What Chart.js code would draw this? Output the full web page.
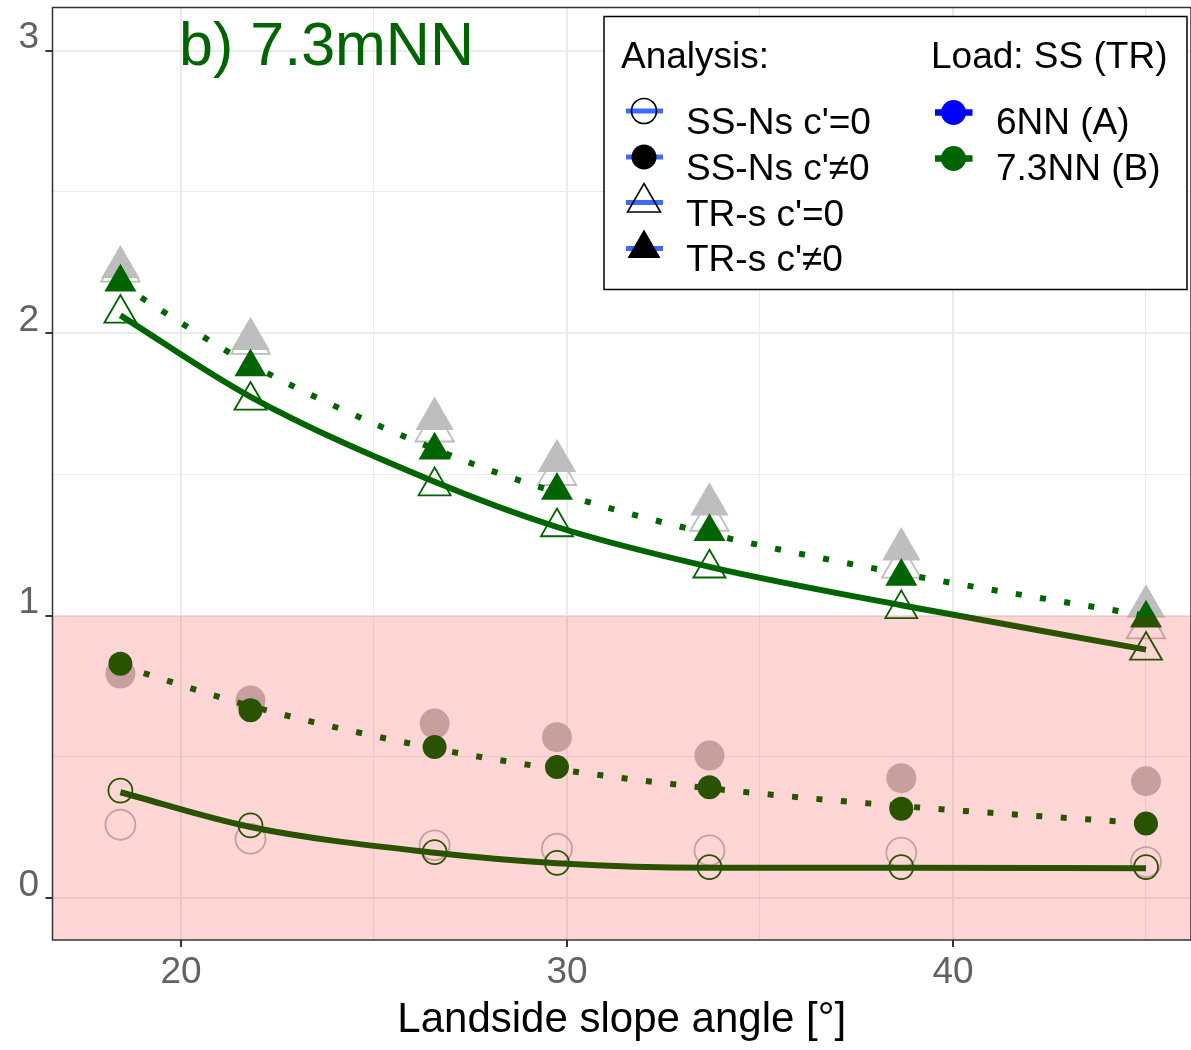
<!DOCTYPE html>
<html>
<head>
<meta charset="utf-8">
<title>Factor of safety vs landside slope angle</title>
<script src="https://cdn.jsdelivr.net/npm/chart.js@4.4.1/dist/chart.umd.min.js"></script>
<style>
  html, body { margin: 0; padding: 0; background: #fff; }
  #wrap { width: 1191px; height: 1050px; position: relative; }
</style>
</head>
<body>
<div id="wrap"><canvas id="fos-chart"></canvas></div>
<script>
(() => {
    'use strict';

    // slope angles of the analysed profiles (1:3 ... 1:1)
    const slopeAngle = [18.43, 21.80, 26.57, 29.74, 33.69, 38.66, 45.00];

    // load 7.3NN (B)
    const ssNsC0B = [0.381, 0.258, 0.163, 0.125, 0.110, 0.110, 0.110];
    const ssNsCB  = [0.830, 0.665, 0.535, 0.464, 0.393, 0.317, 0.264];
    const trsC0B  = [2.070, 1.762, 1.459, 1.314, 1.168, 1.024, 0.877];
    const trsCB   = [2.180, 1.880, 1.586, 1.443, 1.297, 1.139, 0.991];

    // load 6NN (A), shown in grey for comparison
    const ssNsC0A = [0.260, 0.210, 0.187, 0.175, 0.169, 0.161, 0.128];
    const ssNsCA  = [0.795, 0.700, 0.618, 0.570, 0.505, 0.425, 0.414];
    const trsC0A  = [2.222, 1.966, 1.656, 1.502, 1.340, 1.174, 0.959];
    const trsCA   = [2.234, 1.980, 1.697, 1.548, 1.394, 1.235, 1.033];

    // fitted trend curves for 7.3NN
    const fitTrsC0B  = [2.063, 1.775, 1.474, 1.314, 1.173, 1.037, 0.880];
    const fitTrsCB   = [2.172, 1.890, 1.590, 1.436, 1.290, 1.149, 1.000];
    const fitSsNsC0B = [0.375, 0.252, 0.161, 0.124, 0.108, 0.108, 0.106];
    const fitSsNsCB  = [0.823, 0.680, 0.530, 0.457, 0.389, 0.326, 0.265];

    const xTicks = [20, 30, 40];
    const yTicks = [0, 1, 2, 3];
    const unsafeLimit = 1;

    const analysisLabels = ["SS-Ns c'=0", "SS-Ns c'\u22600", "TR-s c'=0", "TR-s c'\u22600"];
    const loadLabels = ['6NN (A)', '7.3NN (B)'];
    const panelTitle = 'b) 7.3mNN';

    const GREEN = '#006400';
    const GREY = '#BEBEBE';
    const FONT = "'Liberation Sans', Arial, Helvetica, sans-serif";

    const pts = ys => slopeAngle.map((x, i) => ({x: x, y: ys[i]}));

    function markerSet(label, ys, style, filled, color, radius, order) {
        return {
            label: label,
            data: pts(ys),
            showLine: false,
            order: order,
            pointStyle: style,
            pointRadius: radius,
            pointHoverRadius: radius,
            pointBackgroundColor: filled ? color : 'rgba(0,0,0,0)',
            pointBorderColor: color,
            pointBorderWidth: filled ? 0 : 1.8
        };
    }

    function fitSet(label, ys, dotted) {
        return {
            label: label,
            data: pts(ys),
            showLine: true,
            order: 2,
            pointRadius: 0,
            borderColor: GREEN,
            borderWidth: 6,
            borderDash: dotted ? [6, 18.5] : [],
            borderCapStyle: 'butt',
            cubicInterpolationMode: 'monotone',
            fill: false
        };
    }

    const datasets = [
        markerSet('SS-Ns c0 A', ssNsC0A, 'circle', false, GREY, 15, 3),
        markerSet('SS-Ns c A', ssNsCA, 'circle', true, GREY, 15, 3),
        markerSet('TR-s c0 A', trsC0A, 'triangle', false, GREY, 22.2, 3),
        markerSet('TR-s c A', trsCA, 'triangle', true, GREY, 22.2, 3),

        fitSet('fit TR-s c0 B', fitTrsC0B, false),
        fitSet('fit TR-s c B', fitTrsCB, true),
        fitSet('fit SS-Ns c0 B', fitSsNsC0B, false),
        fitSet('fit SS-Ns c B', fitSsNsCB, true),

        markerSet('SS-Ns c0 B', ssNsC0B, 'circle', false, GREEN, 12, 1),
        markerSet('SS-Ns c B', ssNsCB, 'circle', true, GREEN, 12, 1),
        markerSet('TR-s c0 B', trsC0B, 'triangle', false, GREEN, 18.5, 1),
        markerSet('TR-s c B', trsCB, 'triangle', true, GREEN, 18.5, 1)
    ];

    // red band below FoS = 1, laid over the data like a translucent rect
    const unsafeBand = {
        id: 'unsafeBand',
        afterDatasetsDraw(chart) {
            const {ctx, chartArea, scales} = chart;
            const yTop = scales.y.getPixelForValue(unsafeLimit);
            ctx.save();
            ctx.fillStyle = 'rgba(255,0,0,0.16)';
            ctx.fillRect(chartArea.left, yTop, chartArea.right - chartArea.left, chartArea.bottom - yTop);

            // panel border
            ctx.strokeStyle = '#333333';
            ctx.lineWidth = 1.5;
            ctx.strokeRect(chartArea.left, chartArea.top, chartArea.right - chartArea.left, chartArea.bottom - chartArea.top);

            // panel tag
            ctx.fillStyle = GREEN;
            ctx.font = '61px ' + FONT;
            ctx.textBaseline = 'alphabetic';
            ctx.textAlign = 'left';
            ctx.fillText(panelTitle, scales.x.getPixelForValue(19.95), scales.y.getPixelForValue(2.95));
            ctx.restore();
        }
    };

    // two column legend: analysis type (shape) and load case (colour)
    const legendBox = {
        id: 'legendBox',
        afterDraw(chart) {
            const ctx = chart.ctx;
            const drawPoint = Chart.helpers.drawPoint;
            ctx.save();
            ctx.fillStyle = '#fff';
            ctx.fillRect(604, 16.5, 583, 273);
            ctx.strokeStyle = '#000';
            ctx.lineWidth = 1.5;
            ctx.strokeRect(604, 16.5, 583, 273);

            ctx.fillStyle = '#000';
            ctx.font = '37px ' + FONT;
            ctx.textBaseline = 'alphabetic';
            ctx.textAlign = 'left';
            ctx.fillText('Analysis:', 621, 68);
            ctx.fillText('Load: SS (TR)', 931, 68);

            const shapes = [
                {style: 'circle', filled: false, r: 12.5},
                {style: 'circle', filled: true, r: 12.5},
                {style: 'triangle', filled: false, r: 19},
                {style: 'triangle', filled: true, r: 19}
            ];
            const rowY = [111, 157, 202.5, 248.5];
            const textY = [133.5, 180, 225.5, 271];

            analysisLabels.forEach((lab, i) => {
                ctx.strokeStyle = '#3D6BFF';
                ctx.lineWidth = 5;
                ctx.beginPath();
                ctx.moveTo(626, rowY[i]);
                ctx.lineTo(663, rowY[i]);
                ctx.stroke();

                const s = shapes[i];
                ctx.fillStyle = s.filled ? '#000' : 'rgba(0,0,0,0)';
                ctx.strokeStyle = '#000';
                ctx.lineWidth = 1.6;
                drawPoint(ctx, {pointStyle: s.style, radius: s.r, borderWidth: s.filled ? 0 : 1.6, rotation: 0}, 644, rowY[i]);

                ctx.fillStyle = '#000';
                ctx.fillText(lab, 686, textY[i]);
            });

            const loadColors = ['#0000FF', GREEN];
            const loadY = [112.5, 158.5];
            loadLabels.forEach((lab, i) => {
                ctx.strokeStyle = loadColors[i];
                ctx.lineWidth = 6.5;
                ctx.beginPath();
                ctx.moveTo(935, loadY[i]);
                ctx.lineTo(972.5, loadY[i]);
                ctx.stroke();

                ctx.fillStyle = loadColors[i];
                drawPoint(ctx, {pointStyle: 'circle', radius: 12.5, borderWidth: 0, rotation: 0}, 953.5, loadY[i]);

                ctx.fillStyle = '#000';
                ctx.fillText(lab, 996, textY[i]);
            });
            ctx.restore();
        }
    };

    const tickColor = (ticks) => ctx => (ctx.tick && ticks.includes(ctx.tick.value)) ? '#333333' : 'rgba(0,0,0,0)';
    const gridWidth = (ticks) => ctx => (ctx.tick && ticks.includes(ctx.tick.value)) ? 2 : 1.1;

    // fixed axis box sizes, no extra room for edge labels
    const fixBox = (w, h) => scale => {
        if (w !== null) scale.width = w;
        if (h !== null) scale.height = h;
        scale.paddingLeft = 0;
        scale.paddingRight = 0;
        scale.paddingTop = 0;
        scale.paddingBottom = 0;
    };

    new Chart(document.getElementById('fos-chart').getContext('2d'), {
        type: 'scatter',
        data: {datasets: datasets},
        plugins: [unsafeBand, legendBox],
        options: {
            responsive: true,
            maintainAspectRatio: false,
            animation: false,
            events: [],
            layout: {autoPadding: false, padding: {top: 7.5, right: 0, bottom: 0, left: 0}},
            plugins: {
                legend: {display: false},
                tooltip: {enabled: false}
            },
            scales: {
                x: {
                    type: 'linear',
                    min: 16.671,
                    max: 46.165,
                    afterFit: fixBox(null, 110),
                    border: {display: false},
                    grid: {
                        color: '#EBEBEB',
                        lineWidth: gridWidth(xTicks),
                        tickLength: 7,
                        tickWidth: 2,
                        tickColor: tickColor(xTicks)
                    },
                    ticks: {
                        stepSize: 5,
                        includeBounds: false,
                        autoSkip: false,
                        maxRotation: 0,
                        padding: 3.3,
                        color: '#626262',
                        font: {family: FONT, size: 37},
                        callback: v => xTicks.includes(v) ? String(v) : ''
                    },
                    title: {
                        display: true,
                        text: 'Landside slope angle [\u00B0]',
                        color: '#000',
                        font: {family: FONT, size: 42},
                        padding: {top: 0, bottom: 4.4}
                    }
                },
                y: {
                    type: 'linear',
                    min: -0.148,
                    max: 3.153,
                    afterFit: fixBox(52.5, null),
                    border: {display: false},
                    grid: {
                        color: '#EBEBEB',
                        lineWidth: gridWidth(yTicks),
                        tickLength: 7,
                        tickWidth: 2,
                        tickColor: tickColor(yTicks)
                    },
                    ticks: {
                        stepSize: 0.5,
                        includeBounds: false,
                        autoSkip: false,
                        padding: 6.5,
                        labelOffset: -12.8,
                        color: '#626262',
                        font: {family: FONT, size: 37},
                        callback: v => yTicks.includes(v) ? String(v) : ''
                    }
                }
            }
        }
    });
})();
</script>
</body>
</html>
